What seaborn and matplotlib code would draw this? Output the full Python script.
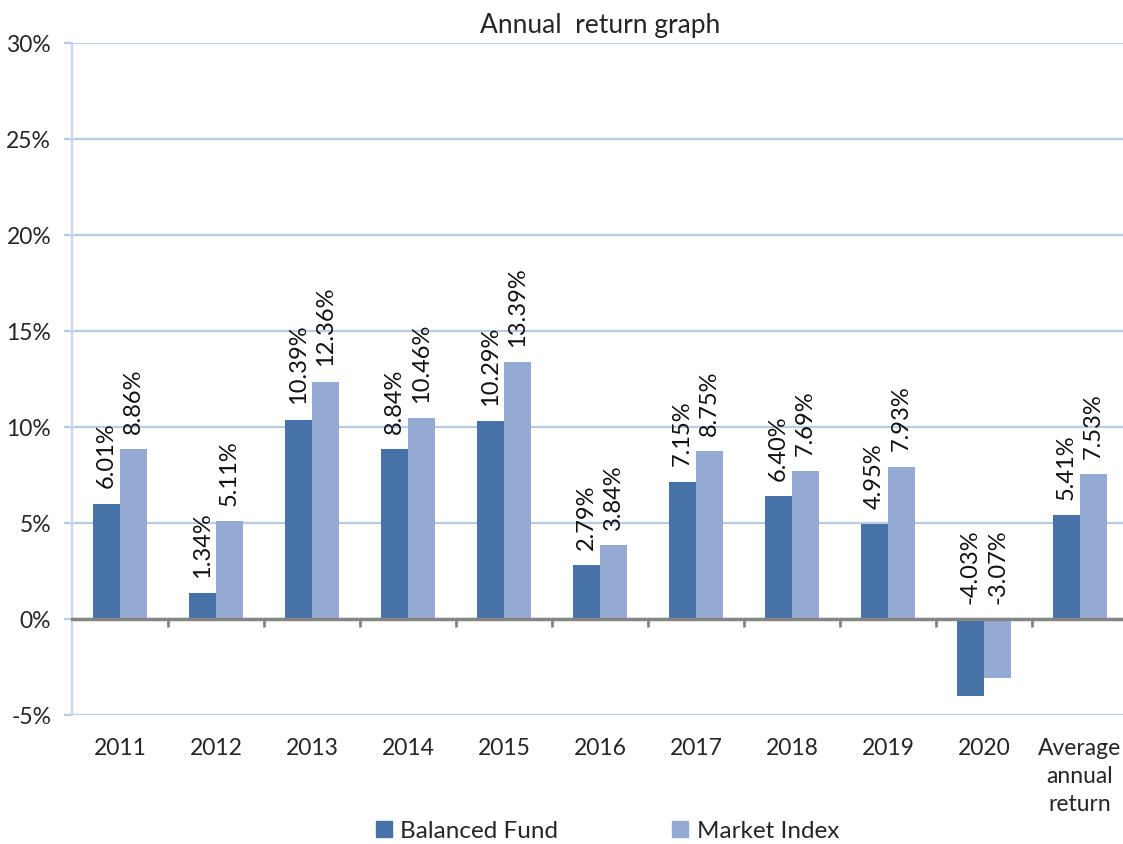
import pandas as pd
import seaborn as sns
import matplotlib.pyplot as plt
from matplotlib.patches import Patch
from matplotlib.ticker import FuncFormatter, FixedLocator

# datos
years = ['2011', '2012', '2013', '2014', '2015', '2016', '2017', '2018', '2019', '2020',
         'Average\nannual\nreturn']
balanced_fund = [6.01, 1.34, 10.39, 8.84, 10.29, 2.79, 7.15, 6.40, 4.95, -4.03, 5.41]
market_index = [8.86, 5.11, 12.36, 10.46, 13.39, 3.84, 8.75, 7.69, 7.93, -3.07, 7.53]
series_names = ['Balanced Fund', 'Market Index']
colors = ['#4672A8', '#95AAD2']

df = pd.DataFrame({
    'Year': years * 2,
    'Return': balanced_fund + market_index,
    'Series': [series_names[0]] * len(years) + [series_names[1]] * len(years),
})

sns.set_style('white')
plt.rcParams['font.family'] = ['Lato', 'DejaVu Sans']
fs = 16.5

fig = plt.figure(figsize=(11.23, 8.45), dpi=100)
ax = fig.add_axes([72 / 1123, 1 - 716 / 845, 1056 / 1123, 672 / 845])

sns.barplot(data=df, x='Year', y='Return', hue='Series', palette=colors,
            width=0.57, saturation=1, linewidth=0, ax=ax, legend=False, zorder=3)

ax.set_xlim(-0.5, len(years) - 0.5)
ax.set_ylim(-5, 30)
ax.set_yticks(range(-5, 31, 5))
ax.yaxis.set_major_formatter(FuncFormatter(lambda v, p: '%d%%' % v))
ax.grid(axis='y', color='#B9CBEB', linewidth=1.6, zorder=0)
ax.set_xlabel('')
ax.set_ylabel('')

# etiquetas de valor verticales sobre cada barra
for cont in ax.containers:
    for bar, val in zip(cont, cont.datavalues):
        base = max(val, 0)
        ax.text(bar.get_x() + bar.get_width() / 2, base + 0.85, '%.2f%%' % val,
                rotation=90, ha='center', va='bottom', fontsize=17, color='#111111',
                zorder=5)

# eje x sobre el cero, etiquetas abajo
for s in ['top', 'right']:
    ax.spines[s].set_visible(False)
ax.spines['left'].set_color('#C8D7F0')
ax.spines['left'].set_linewidth(1.6)
ax.spines['bottom'].set_position(('data', 0))
ax.spines['bottom'].set_color('#858585')
ax.spines['bottom'].set_linewidth(2.5)
ax.spines['bottom'].set_zorder(4)

ax.xaxis.set_minor_locator(FixedLocator([i + 0.5 for i in range(len(years) - 1)]))
ax.tick_params(axis='x', which='both', bottom=True)
ax.tick_params(axis='x', which='minor', direction='out', length=6, width=2, color='#858585')
ax.tick_params(axis='x', which='major', length=0, pad=85, labelsize=fs)
for lbl in ax.get_xticklabels():
    lbl.set_verticalalignment('top')
    lbl.set_linespacing(1.4)
ax.tick_params(axis='y', left=True, direction='out', length=6, width=1.6, color='#B9CBEB',
               pad=9, labelsize=fs)

fig.text(0.534, 1 - 25 / 845, 'Annual  return graph', ha='center', va='center',
         fontsize=19)

handles = [Patch(color=c, label=n) for c, n in zip(colors, series_names)]
fig.legend(handles=handles, loc='center', bbox_to_anchor=(0.541, 1 - 832 / 845), ncol=2,
           frameon=False, fontsize=17.5, handlelength=0.65, handleheight=0.65,
           handletextpad=0.35, columnspacing=4.7, borderaxespad=0)

fig.savefig('out.png', dpi=100)
